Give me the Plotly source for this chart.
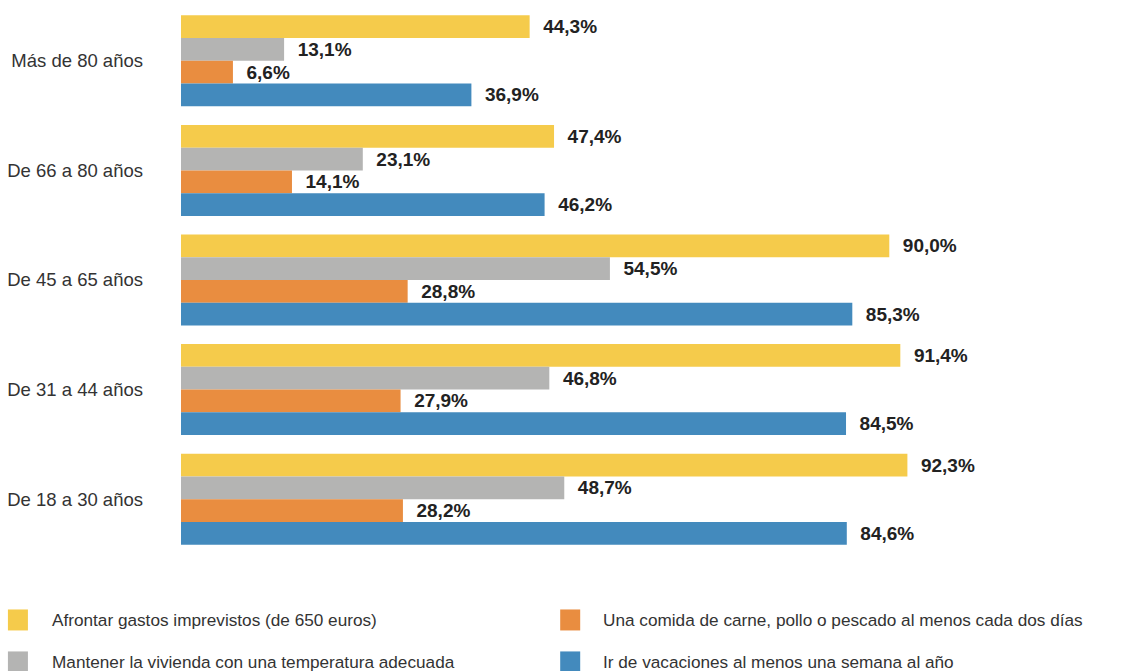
import plotly.graph_objects as go

categories = ["Más de 80 años", "De 66 a 80 años", "De 45 a 65 años", "De 31 a 44 años", "De 18 a 30 años"]
series_names = [
    "Afrontar gastos imprevistos (de 650 euros)",
    "Mantener la vivienda con una temperatura adecuada",
    "Una comida de carne, pollo o pescado al menos cada dos días",
    "Ir de vacaciones al menos una semana al año",
]
gastos = [44.3, 47.4, 90.0, 91.4, 92.3]
temperatura = [13.1, 23.1, 54.5, 46.8, 48.7]
comida = [6.6, 14.1, 28.8, 27.9, 28.2]
vacaciones = [36.9, 46.2, 85.3, 84.5, 84.6]
colors = ["#F5CB4B", "#B4B4B3", "#E98D40", "#438ABD"]

W, H = 1132, 671
L, T = 181, 5.65
PW = 786.6
PH = 548.35
B = H - T - PH
R = W - L - PW
FONT = "Liberation Sans, Arial, Helvetica, sans-serif"

fig = go.Figure()
for name, vals, col in zip(series_names, [gastos, temperatura, comida, vacaciones], colors):
    fig.add_trace(go.Bar(
        y=categories, x=vals, orientation="h", name=name,
        marker=dict(color=col, line=dict(width=0)),
        text=["\u00a0\u00a0" + f"{v:.1f}".replace(".", ",") + "%" for v in vals],
        textposition="outside", constraintext="none", cliponaxis=False,
        textfont=dict(family=FONT, size=19, color="#222222"),
        outsidetextfont=dict(family=FONT, size=19, color="#222222", weight="bold"),
        showlegend=False,
    ))

def px_to_paper_x(px):
    return (px - L) / PW

def px_to_paper_y(py):
    return (H - B - py) / PH

legend_pos = [(8, 50, 620), (8, 50, 662), (560, 601, 620), (560, 601, 662)]
for name, col, (mx, tx, cy) in zip(series_names, colors, legend_pos):
    fig.add_shape(type="rect", xref="paper", yref="paper",
                  x0=px_to_paper_x(mx), x1=px_to_paper_x(mx + 20),
                  y0=px_to_paper_y(cy - 10.5), y1=px_to_paper_y(cy + 10.5),
                  fillcolor=col, line=dict(width=0))
    fig.add_annotation(xref="paper", yref="paper", x=px_to_paper_x(tx), y=px_to_paper_y(cy),
                       text=name, showarrow=False, xanchor="left", yanchor="middle",
                       font=dict(family=FONT, size=17.2, color="#333333"))

fig.update_layout(
    width=W, height=H,
    margin=dict(l=L, r=R, t=T, b=B, pad=0),
    barmode="group", bargap=0.17, bargroupgap=0,
    plot_bgcolor="white", paper_bgcolor="white",
    xaxis=dict(range=[0, 100], visible=False, fixedrange=True),
    yaxis=dict(autorange="reversed", showgrid=False, showline=False, zeroline=False,
               ticks="", ticklabelstandoff=37, fixedrange=True,
               tickfont=dict(family=FONT, size=18.5, color="#333333")),
)

fig.write_html("out.html", config={"displayModeBar": False},
               post_script="document.body.style.margin='0';document.body.style.overflow='hidden';")
